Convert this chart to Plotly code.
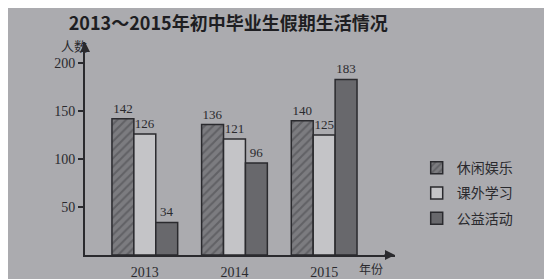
import plotly.graph_objects as go

years = ["2013", "2014", "2015"]
series_names = ["休闲娱乐", "课外学习", "公益活动"]
leisure = [142, 136, 140]
study = [126, 121, 125]
volunteer = [34, 96, 183]
y_ticks = [50, 100, 150, 200]

SERIF = "Liberation Serif, DejaVu Serif, Noto Sans CJK SC, serif"
CJK = "Noto Sans CJK SC, Liberation Serif, serif"
BG = "#ababaf"
INK = "#2a2a2e"

fig = go.Figure()
styles = [
    dict(color="#7a7a7e", pattern=dict(shape="/", fgcolor="#45454a", bgcolor="#7c7c80", size=6, solidity=0.35)),
    dict(color="#c4c4c7"),
    dict(color="#68686c"),
]
for name, vals, st in zip(series_names, [leisure, study, volunteer], styles):
    fig.add_trace(go.Bar(
        x=years, y=vals, name=name, legendgroup=name,
        marker=dict(line=dict(color=INK, width=1.5), **st),
        text=[str(v) for v in vals], textposition="outside", textangle=0,
        constraintext="none", cliponaxis=False,
        textfont=dict(family=SERIF, size=13, color=INK),
    ))

fig.update_layout(
    width=552, height=279,
    margin=dict(l=77, r=165, t=34, b=32),
    paper_bgcolor=BG, plot_bgcolor=BG,
    barmode="group", bargap=0.267, bargroupgap=0,
    showlegend=True,
    title=dict(text="<b>2013～2015年初中毕业生假期生活情况</b>", xref="container", yref="container",
               x=0.399, xanchor="center", y=0.945, yanchor="middle",
               font=dict(family=CJK, size=18, color="#1e1e22")),
    legend=dict(x=1.07, y=0.29, yanchor="middle", xanchor="left",
                font=dict(family=CJK, size=14, color=INK),
                bgcolor="rgba(0,0,0,0)", tracegroupgap=4),
    xaxis=dict(type="category", range=[-0.667, 2.79], showline=True, linecolor=INK,
               linewidth=2, ticks="", showgrid=False, zeroline=False, automargin=False,
               tickfont=dict(family=SERIF, size=14, color=INK), ticklabelstandoff=3),
    yaxis=dict(range=[0, 222], tickvals=y_ticks, showline=True, linecolor=INK, linewidth=2,
               ticks="outside", ticklen=5, tickcolor=INK, tickwidth=1.5, showgrid=False,
               zeroline=False, automargin=False, tickfont=dict(family=SERIF, size=14, color=INK)),
    font=dict(family=SERIF, color=INK),
)

fig.add_annotation(text="人数", xref="paper", yref="paper", x=-0.085, y=0.985,
                   showarrow=False, yanchor="middle", font=dict(family=CJK, size=13, color=INK))
fig.add_annotation(text="年份", xref="paper", yref="paper", x=0.968, y=-0.065,
                   showarrow=False, yanchor="middle", font=dict(family=CJK, size=12, color=INK))
# axis arrows
fig.add_annotation(x=1.0, y=0, xref="paper", yref="paper", ax=-12, ay=0, text="",
                   showarrow=True, arrowhead=2, arrowsize=1, arrowwidth=2, arrowcolor=INK)
fig.add_annotation(x=0, y=1.0, xref="paper", yref="paper", ax=0, ay=12, text="",
                   showarrow=True, arrowhead=2, arrowsize=1, arrowwidth=2, arrowcolor=INK)

fig.write_html("out.html")
